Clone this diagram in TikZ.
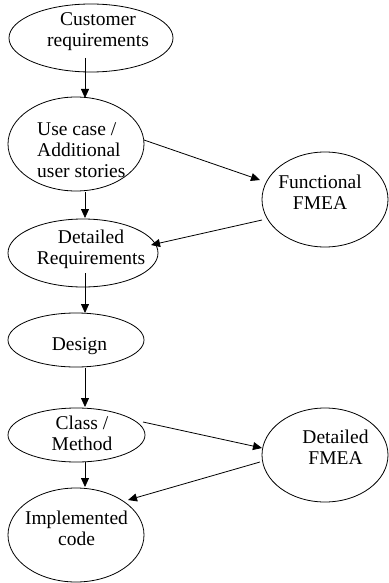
\documentclass[tikz,border=0pt]{standalone}
\usepackage{fontspec}
\setmainfont{Liberation Serif}
\usetikzlibrary{arrows.meta,calc,shapes.geometric}
\begin{document}
\begin{tikzpicture}[x=1pt,y=-1pt,
  oval/.style={draw, ellipse, inner sep=0pt, line width=0.8pt},
  lbl/.style={inner sep=0pt, align=center, anchor=base, font=\fontsize{19.5}{21}\selectfont},
  arr/.style={-{Triangle[length=9pt,width=8pt]}, line width=0.8pt}]
\useasboundingbox (0,0) rectangle (388,583);

% process chain on the left
\node[oval, minimum width=164pt, minimum height=68pt] (cust)   at (91,38)   {};
\node[oval, minimum width=136pt, minimum height=94pt] (use)    at (76,144)  {};
\node[oval, minimum width=150pt, minimum height=68pt] (detreq) at (83,253)  {};
\node[oval, minimum width=136pt, minimum height=54pt] (design) at (76,340)  {};
\node[oval, minimum width=137pt, minimum height=54pt] (cls)    at (76.5,435){};
\node[oval, minimum width=136pt, minimum height=94pt] (impl)   at (76,535)  {};

% FMEA steps on the right
\node[oval, minimum width=126pt, minimum height=95pt] (ffmea)  at (325,199.5){};
\node[oval, minimum width=126pt, minimum height=94pt] (dfmea)  at (325,455)  {};

% labels (anchored at the baseline of their last line)
\node[lbl] (tcust)   at (98,47)   {Customer\\requirements};
\node[lbl, align=left, anchor=base west] (tuse) at (37,177) {Use case /\\Additional\\user stories};
\node[lbl] (tdetreq) at (91,264)  {Detailed\\Requirements};
\node[lbl] (tdesign) at (79.5,350){Design};
\node[lbl] (tcls)    at (82,450)  {Class /\\Method};
\node[lbl] (timpl)   at (76.5,545){Implemented\\code};
\node[lbl] (tffmea)  at (320,209) {Functional\\FMEA};
\node[lbl] (tdfmea)  at (335.5,464){Detailed\\FMEA};

% main flow
\draw[arr] ($(cust.center)+(-6,20)$)    -- ($(use.center)+(9,-46)$);
\draw[arr] ($(use.center)+(9,48)$)      -- ($(detreq.center)+(2,-35)$);
\draw[arr] ($(detreq.center)+(2,20)$)   -- ($(design.center)+(9,-27)$);
\draw[arr] ($(design.center)+(9,28)$)   -- ($(cls.center)+(8.5,-28)$);
\draw[arr] ($(cls.center)+(8.5,27)$)    -- ($(impl.center)+(9,-48)$);

% FMEA loops
\draw[arr] ($(use.center)+(68,-4)$)     -- ($(ffmea.center)+(-65,-19.5)$);
\draw[arr] ($(ffmea.center)+(-63,20.5)$) -- ($(detreq.center)+(68,-8)$);
\draw[arr] ($(cls.center)+(66.5,-13)$)  -- ($(dfmea.center)+(-63,-7)$);
\draw[arr] ($(dfmea.center)+(-65,7)$)   -- ($(impl.center)+(52,-35)$);
\end{tikzpicture}
\end{document}
